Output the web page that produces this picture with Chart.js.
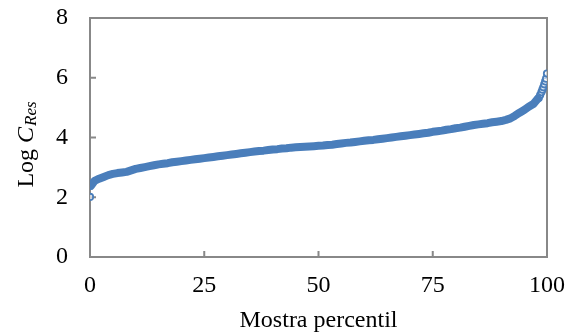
<!DOCTYPE html>
<html>
<head>
<meta charset="utf-8">
<script src="https://cdn.jsdelivr.net/npm/chart.js@4"></script>
<style>
  html, body { margin: 0; padding: 0; background: #fff; }
  #wrap { width: 574px; height: 335px; }
</style>
</head>
<body>
<div id="wrap"><canvas id="chart" width="574" height="335"></canvas></div>
<script>
// percentile sample (x) and log C_Res (y)
var percentil = [0.2, 1, 2, 3, 4, 5, 6, 7, 8, 9, 10, 11, 12, 13, 14, 15, 16, 17, 18, 19, 20,
  21, 22, 23, 24, 25, 26, 27, 28, 29, 30, 31, 32, 33, 34, 35, 36, 37, 38, 39, 40,
  41, 42, 43, 44, 45, 46, 47, 48, 49, 50, 51, 52, 53, 54, 55, 56, 57, 58, 59, 60,
  61, 62, 63, 64, 65, 66, 67, 68, 69, 70, 71, 72, 73, 74, 75, 76, 77, 78, 79, 80,
  81, 82, 83, 84, 85, 86, 87, 88, 89, 90, 91, 92, 93, 94, 95, 96, 97, 98]
var logC = [2.38, 2.55, 2.62, 2.68, 2.74, 2.78, 2.81, 2.83, 2.85, 2.90, 2.95,
  2.98, 3.01, 3.04, 3.07, 3.10, 3.12, 3.14, 3.17, 3.19, 3.21,
  3.23, 3.25, 3.27, 3.29, 3.31, 3.33, 3.35, 3.37, 3.39, 3.41,
  3.43, 3.45, 3.47, 3.49, 3.51, 3.53, 3.55, 3.56, 3.58, 3.60,
  3.61, 3.63, 3.64, 3.66, 3.67, 3.68, 3.69, 3.70, 3.71, 3.72,
  3.73, 3.75, 3.76, 3.78, 3.80, 3.82, 3.83, 3.85, 3.87, 3.89,
  3.91, 3.92, 3.94, 3.96, 3.98, 4.00, 4.02, 4.04, 4.06, 4.08,
  4.10, 4.12, 4.14, 4.16, 4.19, 4.21, 4.23, 4.26, 4.28, 4.31,
  4.33, 4.36, 4.39, 4.42, 4.44, 4.46, 4.48, 4.51, 4.53, 4.55,
  4.59, 4.64, 4.73, 4.83, 4.92, 5.03, 5.12, 5.30]
// the loose points at both ends
var extremX = [0, 98.2, 98.5, 98.8, 99.0, 99.2, 99.4, 99.6, 99.8, 100]
var extremY = [2.01, 5.32, 5.42, 5.52, 5.60, 5.68, 5.78, 5.88, 5.97, 6.14]
var xTicks = [0, 25, 50, 75, 100]
var yTicks = [0, 2, 4, 6, 8]

var blue = "#4a7ebb"
var gray = "#888888"
var serif = "'Liberation Serif', 'Times New Roman', serif"

function pts(xs, ys) {
  var out = []
  xs.forEach(function (x, i) { out.push({ x: x, y: ys[i] }) })
  return out
}

// frame around the plot + inward tick marks, under the data
var framePlugin = {
  id: "frame",
  beforeDatasetsDraw: function (chart) {
    var ctx = chart.ctx
    var a = chart.chartArea
    var xs = chart.scales.x, ys = chart.scales.y
    ctx.save()
    ctx.strokeStyle = gray
    ctx.lineWidth = 2
    ctx.strokeRect(a.left, a.top, a.right - a.left, a.bottom - a.top)
    ctx.beginPath()
    xTicks.forEach(function (v) {
      var px = xs.getPixelForValue(v)
      ctx.moveTo(px, a.bottom)
      ctx.lineTo(px, a.bottom - 6)
    })
    yTicks.forEach(function (v) {
      var py = ys.getPixelForValue(v)
      ctx.moveTo(a.left, py)
      ctx.lineTo(a.left + 6, py)
    })
    ctx.stroke()
    ctx.restore()
  }
}

// y title: "Log C_Res" with italic C and italic subscript Res
var yTitlePlugin = {
  id: "ytitle",
  afterDraw: function (chart) {
    var ctx = chart.ctx
    var f1 = "24px " + serif, f2 = "italic 24px " + serif, f3 = "italic 17px " + serif
    ctx.save()
    ctx.fillStyle = "#000"
    ctx.textBaseline = "alphabetic"
    ctx.translate(33, 145)
    ctx.rotate(-Math.PI / 2)
    ctx.font = f1; var w1 = ctx.measureText("Log ").width
    ctx.font = f2; var w2 = ctx.measureText("C").width
    ctx.font = f3; var w3 = ctx.measureText("Res").width
    var x0 = -(w1 + w2 + w3) / 2
    ctx.font = f1; ctx.fillText("Log ", x0, 0)
    ctx.font = f2; ctx.fillText("C", x0 + w1, 0)
    ctx.font = f3; ctx.fillText("Res", x0 + w1 + w2 + 1, 3)
    ctx.restore()
  }
}

new Chart(document.getElementById("chart"), {
  type: "scatter",
  data: {
    datasets: [
      {
        data: pts(percentil, logC),
        showLine: true,
        borderColor: blue,
        borderWidth: 8,
        borderCapStyle: "round",
        borderJoinStyle: "round",
        pointRadius: 0,
        tension: 0
      },
      {
        data: pts(extremX, extremY),
        showLine: false,
        borderColor: blue,
        backgroundColor: "rgba(255,255,255,0.6)",
        borderWidth: 1.8,
        pointRadius: 3.2
      }
    ]
  },
  options: {
    responsive: false,
    animation: false,
    layout: { padding: { top: 18, right: 27, left: 0, bottom: 0 } },
    plugins: { legend: { display: false }, tooltip: { enabled: false } },
    scales: {
      x: {
        type: "linear",
        min: 0, max: 100,
        afterBuildTicks: function (s) { s.ticks = xTicks.map(function (v) { return { value: v } }) },
        afterFit: function (s) { s.height = 78; s.paddingLeft = 0; s.paddingRight = 0 },
        grid: { display: false },
        border: { display: false },
        ticks: { color: "#000", font: { family: serif, size: 24 }, padding: 6, maxRotation: 0 },
        title: { display: true, text: "Mostra percentil", color: "#000", font: { family: serif, size: 24 }, padding: { top: 4, bottom: 0 } }
      },
      y: {
        min: 0, max: 8,
        afterBuildTicks: function (s) { s.ticks = yTicks.map(function (v) { return { value: v } }) },
        afterFit: function (s) { s.width = 90; s.paddingTop = 0; s.paddingBottom = 0 },
        grid: { display: false },
        border: { display: false },
        ticks: { color: "#000", font: { family: serif, size: 24 }, padding: 14 }
      }
    }
  },
  plugins: [framePlugin, yTitlePlugin]
})
</script>
</body>
</html>
